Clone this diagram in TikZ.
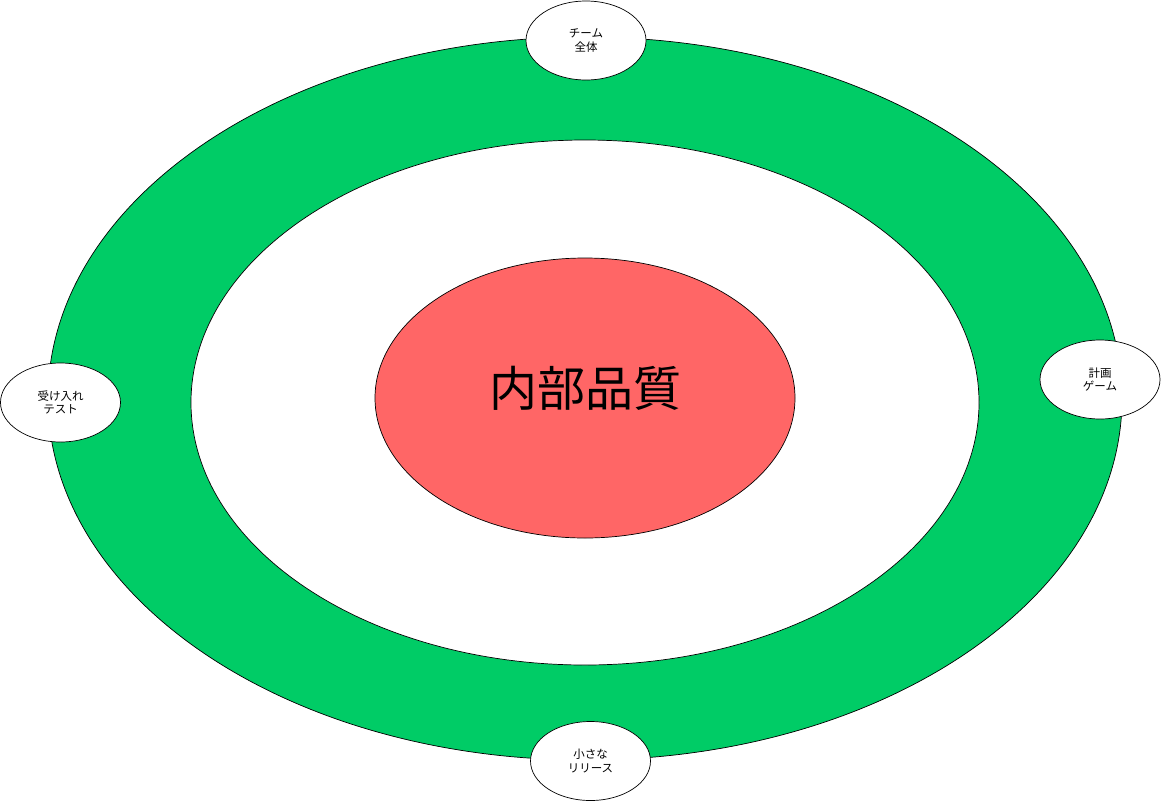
\documentclass[tikz,border=0pt]{standalone}
\usepackage{fontspec}
\newfontfamily\cjk{Noto Sans CJK JP}
\definecolor{ringgreen}{HTML}{00CC66}
\definecolor{corered}{HTML}{FF6666}
\tikzset{
  practice/.style={draw=black, fill=white, ellipse, minimum width=120pt, minimum height=79pt, inner sep=0pt, align=center, font=\cjk\fontsize{11.5}{13.5}\selectfont, line width=0.7pt},
}
\usetikzlibrary{shapes.geometric}
\begin{document}
\begin{tikzpicture}[x=1pt,y=-1pt]
\useasboundingbox (0,0) rectangle (1161,801);
\fill[white] (0,0) rectangle (1161,801);
\node[draw=black, fill=ringgreen, ellipse, minimum width=1074pt, minimum height=723pt, inner sep=0pt, line width=0.7pt] (outer) at (585,398.5) {};
\node[draw=black, fill=white, ellipse, minimum width=788pt, minimum height=525pt, inner sep=0pt, line width=0.7pt] (inner) at (585,402.5) {};
\node[draw=black, fill=corered, ellipse, minimum width=420pt, minimum height=280pt, inner sep=0pt, line width=0.7pt] (core) at (585,398) {};
\node[font=\cjk\fontsize{48}{54}\selectfont, inner sep=0pt] (coretext) at (585,388) {内部品質};
\node[practice] (team) at (586,40.5) {チーム\\全体};
\node[practice] (plan) at (1100,379.5) {計画\\ゲーム};
\node[practice] (accept) at (60.5,402.5) {受け入れ\\テスト};
\node[practice] (release) at (590.5,761) {小さな\\リリース};
\end{tikzpicture}
\end{document}
